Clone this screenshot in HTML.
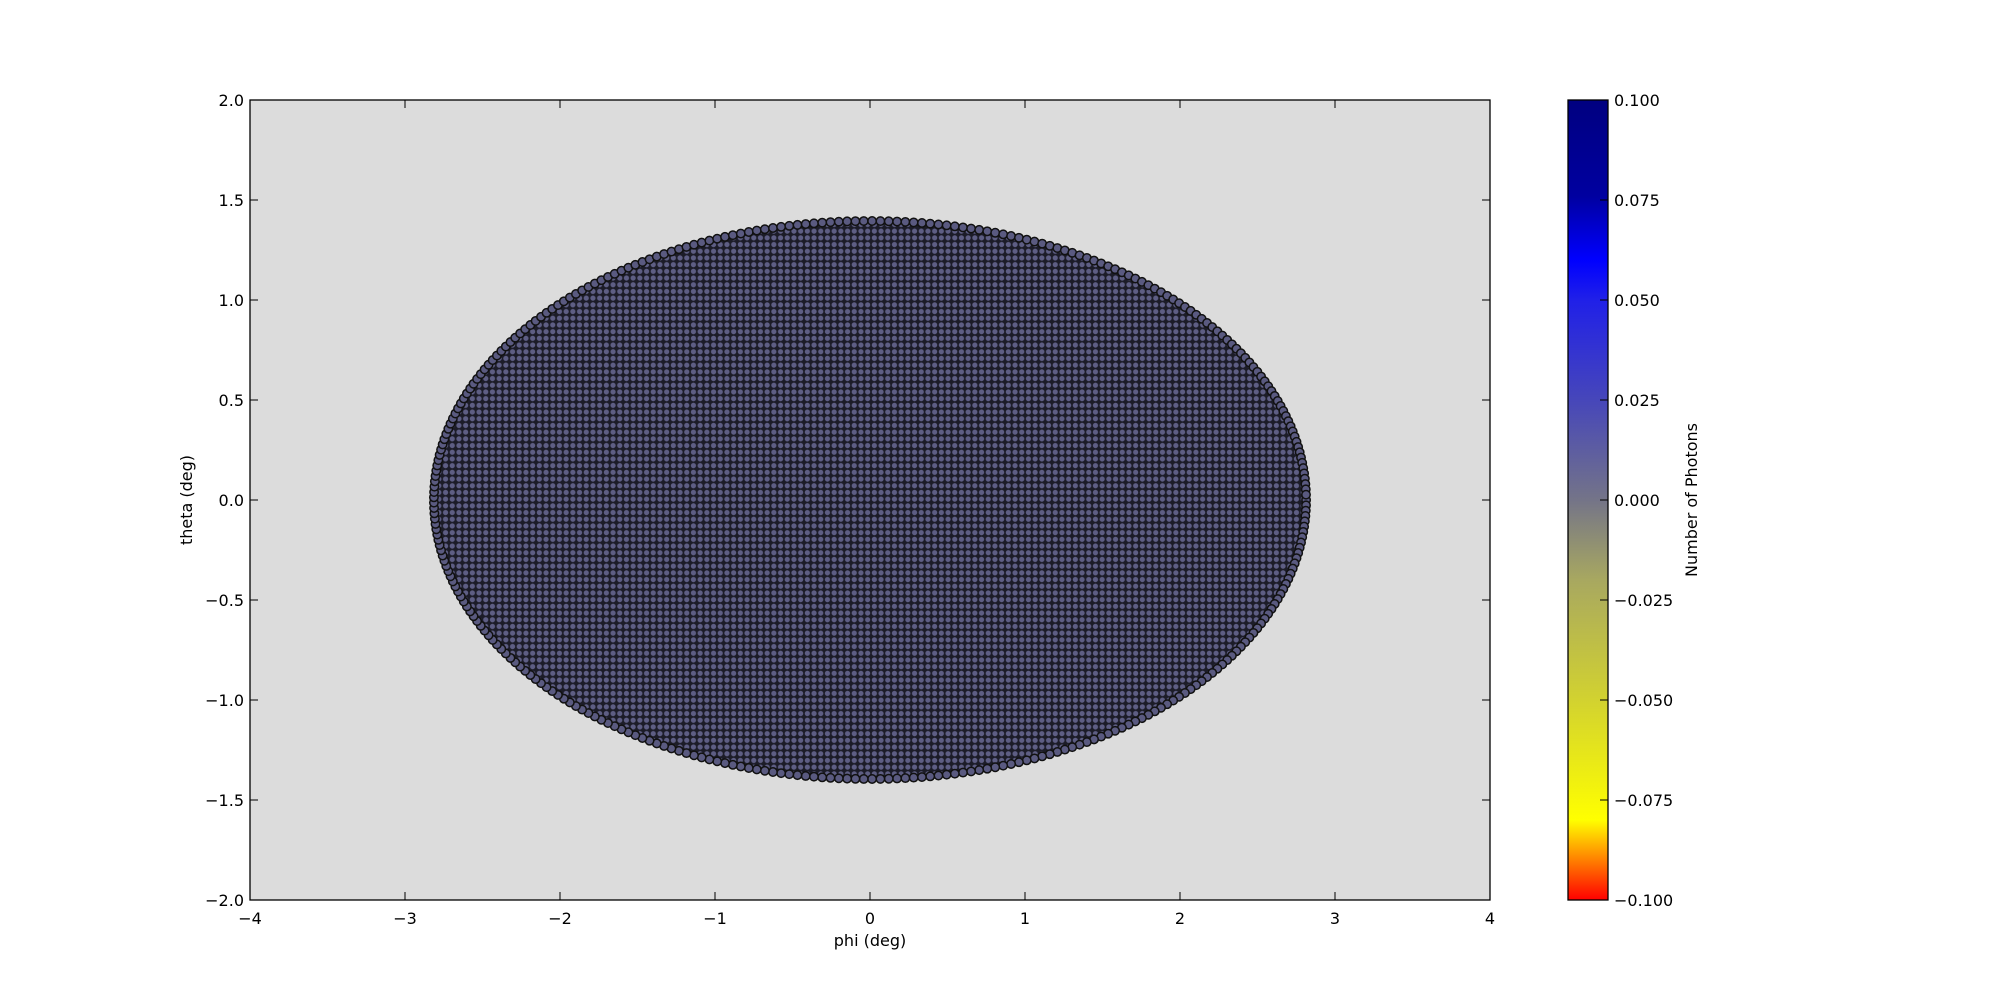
<!DOCTYPE html>
<html><head><meta charset="utf-8"><style>
html,body{margin:0;padding:0;background:#fff;}
svg{display:block;font-family:"DejaVu Sans","Liberation Sans",sans-serif;}
</style></head><body>
<svg id="chart" width="2000" height="1000" viewBox="0 0 2000 1000">
<defs>
<pattern id="dots" x="0" y="0" width="6.7" height="6.7" patternUnits="userSpaceOnUse">
<rect width="6.7" height="6.7" fill="#1c1c28"/>
<circle cx="3.35" cy="3.35" r="2.6" fill="#5e5e84"/>
</pattern>
<linearGradient id="cbar" x1="0" y1="1" x2="0" y2="0">
<stop offset="0" stop-color="#ff0000"/>
<stop offset="0.05" stop-color="#ff8000"/>
<stop offset="0.1" stop-color="#ffff00"/>
<stop offset="0.25" stop-color="#d2d230"/>
<stop offset="0.4" stop-color="#a8a860"/>
<stop offset="0.5" stop-color="#747488"/>
<stop offset="0.62" stop-color="#4848b8"/>
<stop offset="0.75" stop-color="#2020e8"/>
<stop offset="0.8" stop-color="#0000ff"/>
<stop offset="0.88" stop-color="#0000a0"/>
<stop offset="1" stop-color="#000080"/>
</linearGradient>
</defs>
<rect x="250" y="100" width="1240" height="800" fill="#dcdcdc"/>
<g id="marks"></g>
<rect x="250" y="100" width="1240" height="800" fill="none" stroke="#000" stroke-width="1.3"/>
<g id="axes"></g>
<text x="870" y="946" font-size="16" text-anchor="middle">phi (deg)</text>
<text transform="translate(192,500) rotate(-90)" font-size="16" text-anchor="middle">theta (deg)</text>
<rect x="1568" y="100" width="40" height="800" fill="url(#cbar)" stroke="#000" stroke-width="1.3"/>
<g id="cbticks"></g>
<text transform="translate(1697,500) rotate(-90)" font-size="16" text-anchor="middle">Number of Photons</text>
</svg>
<script>
const xTicks=[-4,-3,-2,-1,0,1,2,3,4];
const yTicks=[-2.0,-1.5,-1.0,-0.5,0.0,0.5,1.0,1.5,2.0];
const cbTicks=[-0.100,-0.075,-0.050,-0.025,0.000,0.025,0.050,0.075,0.100];
const phiHalfWidth=[2.82];
const thetaHalfHeight=[1.40];
const NS="http://www.w3.org/2000/svg";
const X0=250,X1=1490,Y0=900,Y1=100;
const sx=v=>X0+(v+4)/8*(X1-X0);
const sy=v=>Y0-(v+2)/4*(Y0-Y1);
const cb=v=>900-(v+0.1)/0.2*800;
function mk(tag,attrs,parent){const e=document.createElementNS(NS,tag);for(const k in attrs)e.setAttribute(k,attrs[k]);parent.appendChild(e);return e;}
const axes=document.getElementById('axes');
xTicks.forEach(t=>{const x=sx(t);
 let l=mk('line',{x1:x,x2:x,y1:900,y2:892,stroke:'#000'},axes);
 
 
 l=mk('line',{x1:x,x2:x,y1:100,y2:108,stroke:'#000'},axes);
 
 
 const tx=mk('text',{x:x,y:924,'font-size':16,'text-anchor':'middle'},axes);tx.textContent=(t<0?"\u2212":"")+Math.abs(t);
 
 });
yTicks.forEach(t=>{const y=sy(t);
 let l=mk('line',{x1:250,x2:258,y1:y,y2:y,stroke:'#000'},axes);
 
 
 l=mk('line',{x1:1482,x2:1490,y1:y,y2:y,stroke:'#000'},axes);
 
 
 const tx=mk('text',{x:244,y:y+6,'font-size':16,'text-anchor':'end'},axes);
 tx.textContent=(t<0?"\u2212":"")+Math.abs(t).toFixed(1);
 
 });
const cbg=document.getElementById('cbticks');
cbTicks.forEach(t=>{const y=cb(t);
 let l=mk('line',{x1:1600,x2:1608,y1:y,y2:y,stroke:'#000'},cbg);
 
 
 const tx=mk('text',{x:1614,y:y+6,'font-size':16},cbg);tx.textContent=(t<0?"\u2212":"")+Math.abs(t).toFixed(3);
 
 });
const marks=document.getElementById('marks');
const cx=sx(0),cy=sy(0),rx=sx(phiHalfWidth[0])-cx,ry=cy-sy(thetaHalfHeight[0]);
const el=mk('ellipse',{cx:cx,cy:cy,rx:rx,ry:ry,fill:'url(#dots)'},marks);


const N=Math.round(2*Math.PI*Math.sqrt((rx*rx+ry*ry)/2)/7);
for(let i=0;i<N;i++){const a=i/N*2*Math.PI;
 const c=mk('circle',{cx:cx+(rx-1)*Math.cos(a),cy:cy+(ry-1)*Math.sin(a),r:4.2,fill:'#5a5a80',stroke:'#111','stroke-width':1.5},marks);
 
 }
</script>
</body></html>
